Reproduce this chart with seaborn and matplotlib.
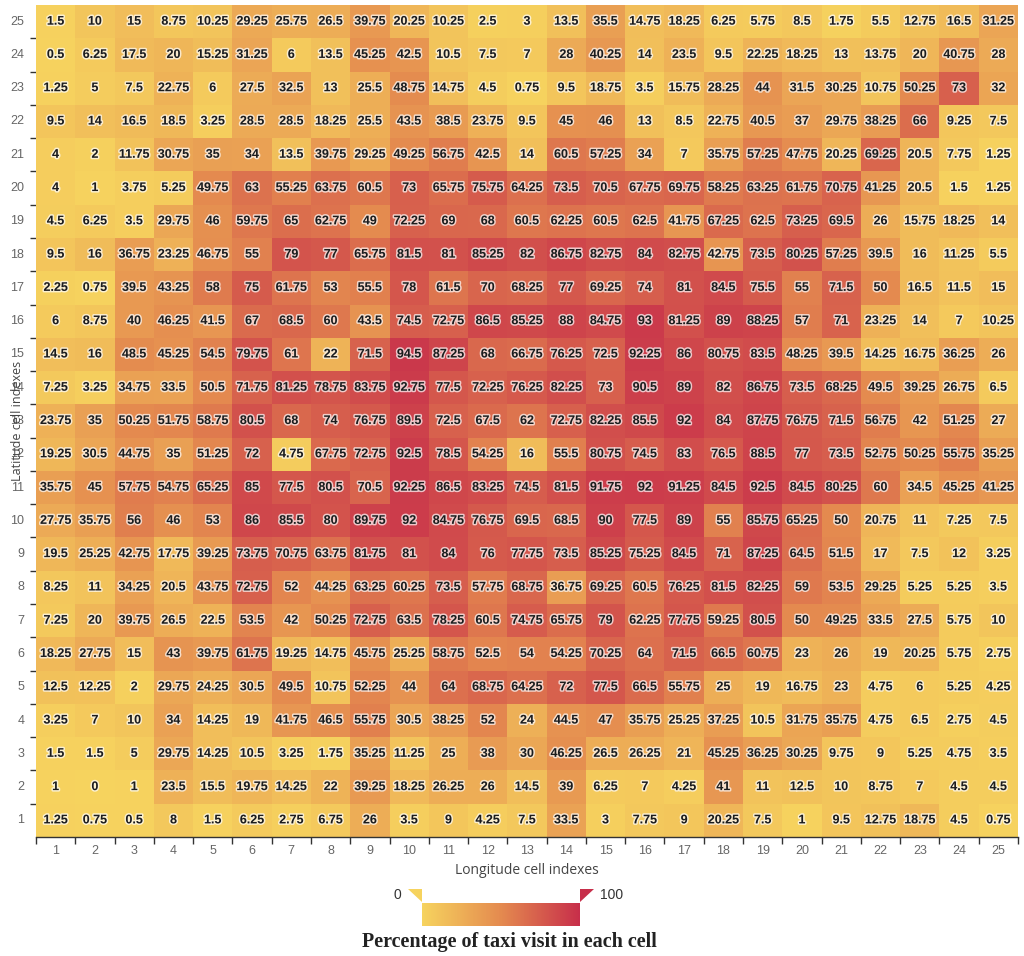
import numpy as np
import pandas as pd
import matplotlib
matplotlib.use("Agg")
import matplotlib.pyplot as plt
import matplotlib.patheffects as pe
from matplotlib.colors import LinearSegmentedColormap
from matplotlib.patches import Polygon
import seaborn as sns

# ---------------- data ----------------
lon_labels = [str(i) for i in range(1, 26)]
lat_labels = [str(i) for i in range(25, 0, -1)]  # top to bottom

lat_25 = [1.5, 10, 15, 8.75, 10.25, 29.25, 25.75, 26.5, 39.75, 20.25, 10.25, 2.5, 3, 13.5, 35.5, 14.75, 18.25, 6.25, 5.75, 8.5, 1.75, 5.5, 12.75, 16.5, 31.25]
lat_24 = [0.5, 6.25, 17.5, 20, 15.25, 31.25, 6, 13.5, 45.25, 42.5, 10.5, 7.5, 7, 28, 40.25, 14, 23.5, 9.5, 22.25, 18.25, 13, 13.75, 20, 40.75, 28]
lat_23 = [1.25, 5, 7.5, 22.75, 6, 27.5, 32.5, 13, 25.5, 48.75, 14.75, 4.5, 0.75, 9.5, 18.75, 3.5, 15.75, 28.25, 44, 31.5, 30.25, 10.75, 50.25, 73, 32]
lat_22 = [9.5, 14, 16.5, 18.5, 3.25, 28.5, 28.5, 18.25, 25.5, 43.5, 38.5, 23.75, 9.5, 45, 46, 13, 8.5, 22.75, 40.5, 37, 29.75, 38.25, 66, 9.25, 7.5]
lat_21 = [4, 2, 11.75, 30.75, 35, 34, 13.5, 39.75, 29.25, 49.25, 56.75, 42.5, 14, 60.5, 57.25, 34, 7, 35.75, 57.25, 47.75, 20.25, 69.25, 20.5, 7.75, 1.25]
lat_20 = [4, 1, 3.75, 5.25, 49.75, 63, 55.25, 63.75, 60.5, 73, 65.75, 75.75, 64.25, 73.5, 70.5, 67.75, 69.75, 58.25, 63.25, 61.75, 70.75, 41.25, 20.5, 1.5, 1.25]
lat_19 = [4.5, 6.25, 3.5, 29.75, 46, 59.75, 65, 62.75, 49, 72.25, 69, 68, 60.5, 62.25, 60.5, 62.5, 41.75, 67.25, 62.5, 73.25, 69.5, 26, 15.75, 18.25, 14]
lat_18 = [9.5, 16, 36.75, 23.25, 46.75, 55, 79, 77, 65.75, 81.5, 81, 85.25, 82, 86.75, 82.75, 84, 82.75, 42.75, 73.5, 80.25, 57.25, 39.5, 16, 11.25, 5.5]
lat_17 = [2.25, 0.75, 39.5, 43.25, 58, 75, 61.75, 53, 55.5, 78, 61.5, 70, 68.25, 77, 69.25, 74, 81, 84.5, 75.5, 55, 71.5, 50, 16.5, 11.5, 15]
lat_16 = [6, 8.75, 40, 46.25, 41.5, 67, 68.5, 60, 43.5, 74.5, 72.75, 86.5, 85.25, 88, 84.75, 93, 81.25, 89, 88.25, 57, 71, 23.25, 14, 7, 10.25]
lat_15 = [14.5, 16, 48.5, 45.25, 54.5, 79.75, 61, 22, 71.5, 94.5, 87.25, 68, 66.75, 76.25, 72.5, 92.25, 86, 80.75, 83.5, 48.25, 39.5, 14.25, 16.75, 36.25, 26]
lat_14 = [7.25, 3.25, 34.75, 33.5, 50.5, 71.75, 81.25, 78.75, 83.75, 92.75, 77.5, 72.25, 76.25, 82.25, 73, 90.5, 89, 82, 86.75, 73.5, 68.25, 49.5, 39.25, 26.75, 6.5]
lat_13 = [23.75, 35, 50.25, 51.75, 58.75, 80.5, 68, 74, 76.75, 89.5, 72.5, 67.5, 62, 72.75, 82.25, 85.5, 92, 84, 87.75, 76.75, 71.5, 56.75, 42, 51.25, 27]
lat_12 = [19.25, 30.5, 44.75, 35, 51.25, 72, 4.75, 67.75, 72.75, 92.5, 78.5, 54.25, 16, 55.5, 80.75, 74.5, 83, 76.5, 88.5, 77, 73.5, 52.75, 50.25, 55.75, 35.25]
lat_11 = [35.75, 45, 57.75, 54.75, 65.25, 85, 77.5, 80.5, 70.5, 92.25, 86.5, 83.25, 74.5, 81.5, 91.75, 92, 91.25, 84.5, 92.5, 84.5, 80.25, 60, 34.5, 45.25, 41.25]
lat_10 = [27.75, 35.75, 56, 46, 53, 86, 85.5, 80, 89.75, 92, 84.75, 76.75, 69.5, 68.5, 90, 77.5, 89, 55, 85.75, 65.25, 50, 20.75, 11, 7.25, 7.5]
lat_9 = [19.5, 25.25, 42.75, 17.75, 39.25, 73.75, 70.75, 63.75, 81.75, 81, 84, 76, 77.75, 73.5, 85.25, 75.25, 84.5, 71, 87.25, 64.5, 51.5, 17, 7.5, 12, 3.25]
lat_8 = [8.25, 11, 34.25, 20.5, 43.75, 72.75, 52, 44.25, 63.25, 60.25, 73.5, 57.75, 68.75, 36.75, 69.25, 60.5, 76.25, 81.5, 82.25, 59, 53.5, 29.25, 5.25, 5.25, 3.5]
lat_7 = [7.25, 20, 39.75, 26.5, 22.5, 53.5, 42, 50.25, 72.75, 63.5, 78.25, 60.5, 74.75, 65.75, 79, 62.25, 77.75, 59.25, 80.5, 50, 49.25, 33.5, 27.5, 5.75, 10]
lat_6 = [18.25, 27.75, 15, 43, 39.75, 61.75, 19.25, 14.75, 45.75, 25.25, 58.75, 52.5, 54, 54.25, 70.25, 64, 71.5, 66.5, 60.75, 23, 26, 19, 20.25, 5.75, 2.75]
lat_5 = [12.5, 12.25, 2, 29.75, 24.25, 30.5, 49.5, 10.75, 52.25, 44, 64, 68.75, 64.25, 72, 77.5, 66.5, 55.75, 25, 19, 16.75, 23, 4.75, 6, 5.25, 4.25]
lat_4 = [3.25, 7, 10, 34, 14.25, 19, 41.75, 46.5, 55.75, 30.5, 38.25, 52, 24, 44.5, 47, 35.75, 25.25, 37.25, 10.5, 31.75, 35.75, 4.75, 6.5, 2.75, 4.5]
lat_3 = [1.5, 1.5, 5, 29.75, 14.25, 10.5, 3.25, 1.75, 35.25, 11.25, 25, 38, 30, 46.25, 26.5, 26.25, 21, 45.25, 36.25, 30.25, 9.75, 9, 5.25, 4.75, 3.5]
lat_2 = [1, 0, 1, 23.5, 15.5, 19.75, 14.25, 22, 39.25, 18.25, 26.25, 26, 14.5, 39, 6.25, 7, 4.25, 41, 11, 12.5, 10, 8.75, 7, 4.5, 4.5]
lat_1 = [1.25, 0.75, 0.5, 8, 1.5, 6.25, 2.75, 6.75, 26, 3.5, 9, 4.25, 7.5, 33.5, 3, 7.75, 9, 20.25, 7.5, 1, 9.5, 12.75, 18.75, 4.5, 0.75]

rows = [lat_25, lat_24, lat_23, lat_22, lat_21, lat_20, lat_19, lat_18, lat_17,
        lat_16, lat_15, lat_14, lat_13, lat_12, lat_11, lat_10, lat_9, lat_8,
        lat_7, lat_6, lat_5, lat_4, lat_3, lat_2, lat_1]
df = pd.DataFrame(rows, index=lat_labels, columns=lon_labels)

vmin, vmax = 0, 100
title_text = "Percentage of taxi visit in each cell"

# ---------------- style ----------------
sns.set_theme(style="white")
plt.rcParams['font.family'] = ['Liberation Sans', 'DejaVu Sans']

W, H = 1024, 956
fig = plt.figure(figsize=(W / 100, H / 100), dpi=100)

def fx(px):
    return px / W

def fy(py):
    return 1 - py / H

ax = fig.add_axes([fx(36), fy(837), fx(982), 832 / H])
cax = fig.add_axes([fx(422), fy(926), fx(158), 23 / H])

cmap = LinearSegmentedColormap.from_list(
    "taxi", ["#F6D35E", "#E48A4F", "#C72E4A"])

sns.heatmap(
    df, ax=ax, cmap=cmap, vmin=vmin, vmax=vmax,
    annot=True, fmt="g",
    annot_kws=dict(fontsize=9, fontweight="bold", color="#1c1c1c",
                   path_effects=[pe.withStroke(linewidth=2.2, foreground=(1, 1, 1, 0.7))]),
    cbar_ax=cax, cbar_kws=dict(orientation="horizontal"),
    linewidths=0,
)

# axis ticks: labels at centres, marks at cell boundaries
ax.tick_params(axis="x", which="major", length=0, labelsize=9,
               labelcolor="#666666", pad=6)
ax.tick_params(axis="y", which="major", length=0, labelsize=9,
               labelcolor="#666666", pad=8.5)
ax.set_xticks(np.arange(0, 26), minor=True)
ax.set_yticks(np.arange(1, 25), minor=True)
ax.tick_params(axis="x", which="minor", length=5, width=1, color="#333333",
               bottom=True, direction="out")
ax.tick_params(axis="y", which="minor", length=4, width=1, color="#333333",
               left=True, direction="out")
ax.set_yticklabels(lat_labels, rotation=0)
ax.set_xticklabels(lon_labels, rotation=0)
ax.spines["bottom"].set_visible(True)
ax.spines["bottom"].set_color("#333333")
ax.spines["bottom"].set_linewidth(1)

ax.set_xlabel("Longitude cell indexes", fontsize=10, color="#444444",
              fontfamily=["Open Sans", "DejaVu Sans"])
ax.xaxis.set_label_coords(0.5, -0.031)
ax.set_ylabel("Latitude cell indexes", fontsize=9, color="#444444",
              fontfamily=["Open Sans", "DejaVu Sans"])
ax.yaxis.set_label_coords(-0.0122, 0.5)

# colour bar styling
cax.set_xticks([])
cax.set_yticks([])
for s in cax.spines.values():
    s.set_visible(False)

fig.add_artist(Polygon([[fx(408), fy(889)], [fx(422), fy(889)], [fx(422), fy(902)]],
                       closed=True, transform=fig.transFigure,
                       facecolor=cmap(0.0), edgecolor="none"))
fig.add_artist(Polygon([[fx(580), fy(889)], [fx(594), fy(889)], [fx(580), fy(902)]],
                       closed=True, transform=fig.transFigure,
                       facecolor=cmap(1.0), edgecolor="none"))
fig.text(fx(397), fy(895), str(vmin), ha="center", va="center", fontsize=10, color="#333333")
fig.text(fx(600), fy(895), str(vmax), ha="left", va="center", fontsize=10, color="#333333")

fig.text(fx(509), fy(942), title_text, ha="center", va="center",
         fontsize=14.5, fontweight="bold", color="#222222",
         fontfamily=["Liberation Serif", "DejaVu Serif"])

fig.savefig("out.png", dpi=100)
